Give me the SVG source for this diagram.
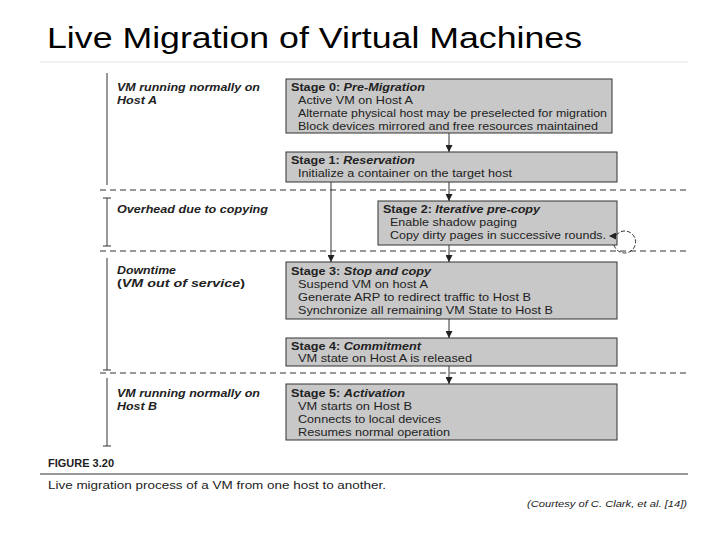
<svg xmlns="http://www.w3.org/2000/svg" width="720" height="540" viewBox="0 0 720 540">
<style>
text{font-family:"Liberation Sans",Arial,sans-serif;fill:#222}
.t{font-size:11.5px}
.b{font-weight:bold}
.i{font-style:italic}
.box{fill:#c8c8c8;stroke:#333;stroke-width:1}
.c{stroke:#333;stroke-width:1;fill:none}
.d{stroke:#333;stroke-width:1;stroke-dasharray:6,4}
</style>
<defs><marker id="a" viewBox="0 0 10 10" refX="10" refY="5" markerWidth="7" markerHeight="7" orient="auto"><path d="M0,0L10,5L0,10z" fill="#222"/></marker></defs>
<rect width="720" height="540" fill="#fff"/>
<text x="47" y="48" font-size="30" textLength="535" lengthAdjust="spacingAndGlyphs" style="fill:#000">Live Migration of Virtual Machines</text>
<line x1="40" y1="62" x2="688" y2="62" stroke="#e6e6e6"/>
<g id="phases">
<line x1="107" y1="73" x2="107" y2="185" class="c"/>
<path d="M103,198h8M107,198v48M103,246h8" class="c"/>
<path d="M107,258v112M103,370h8" class="c"/>
<path d="M107,378v68M103,446h8" class="c"/>
<line x1="100" y1="190" x2="688" y2="190" class="d"/>
<line x1="100" y1="251" x2="688" y2="251" class="d"/>
<line x1="100" y1="373" x2="688" y2="373" class="d"/>
<text class="t b i" x="117" y="91" textLength="143" lengthAdjust="spacingAndGlyphs">VM running normally on</text>
<text class="t b i" x="117" y="104" textLength="40" lengthAdjust="spacingAndGlyphs">Host A</text>
<text class="t b i" x="117" y="213" textLength="151" lengthAdjust="spacingAndGlyphs">Overhead due to copying</text>
<text class="t b i" x="117" y="274" textLength="59" lengthAdjust="spacingAndGlyphs">Downtime</text>
<text class="t b" x="117" y="287" textLength="128" lengthAdjust="spacingAndGlyphs">(<tspan class="i">VM out of service</tspan>)</text>
<text class="t b i" x="117" y="397" textLength="143" lengthAdjust="spacingAndGlyphs">VM running normally on</text>
<text class="t b i" x="117" y="410" textLength="40" lengthAdjust="spacingAndGlyphs">Host B</text>
</g>
<g id="s0"><rect class="box" x="286" y="79" width="326" height="54"/>
<text class="t" x="291" y="91" textLength="134" lengthAdjust="spacingAndGlyphs"><tspan class="b">Stage 0: </tspan><tspan class="b i">Pre-Migration</tspan></text>
<text class="t" x="298" y="104" textLength="115" lengthAdjust="spacingAndGlyphs">Active VM on Host A</text>
<text class="t" x="298" y="117" textLength="309" lengthAdjust="spacingAndGlyphs">Alternate physical host may be preselected for migration</text>
<text class="t" x="298" y="130" textLength="300" lengthAdjust="spacingAndGlyphs">Block devices mirrored and free resources maintained</text></g>
<g id="s1"><rect class="box" x="286" y="152" width="331" height="30"/>
<text class="t" x="291" y="164" textLength="124" lengthAdjust="spacingAndGlyphs"><tspan class="b">Stage 1: </tspan><tspan class="b i">Reservation</tspan></text>
<text class="t" x="298" y="177" textLength="214" lengthAdjust="spacingAndGlyphs">Initialize a container on the target host</text></g>
<g id="s2"><rect class="box" x="378" y="201" width="239" height="44"/>
<text class="t" x="383" y="213" textLength="157" lengthAdjust="spacingAndGlyphs"><tspan class="b">Stage 2: </tspan><tspan class="b i">Iterative pre-copy</tspan></text>
<text class="t" x="390" y="226" textLength="127" lengthAdjust="spacingAndGlyphs">Enable shadow paging</text>
<text class="t" x="390" y="239" textLength="216" lengthAdjust="spacingAndGlyphs">Copy dirty pages in successive rounds.</text></g>
<g id="s3"><rect class="box" x="286" y="262" width="331" height="57"/>
<text class="t" x="291" y="275" textLength="140" lengthAdjust="spacingAndGlyphs"><tspan class="b">Stage 3: </tspan><tspan class="b i">Stop and copy</tspan></text>
<text class="t" x="298" y="288" textLength="130" lengthAdjust="spacingAndGlyphs">Suspend VM on host A</text>
<text class="t" x="298" y="301" textLength="233" lengthAdjust="spacingAndGlyphs">Generate ARP to redirect traffic to Host B</text>
<text class="t" x="298" y="314" textLength="255" lengthAdjust="spacingAndGlyphs">Synchronize all remaining VM State to Host B</text></g>
<g id="s4"><rect class="box" x="286" y="338" width="331" height="28"/>
<text class="t" x="291" y="350" textLength="130" lengthAdjust="spacingAndGlyphs"><tspan class="b">Stage 4: </tspan><tspan class="b i">Commitment</tspan></text>
<text class="t" x="298" y="362" textLength="174" lengthAdjust="spacingAndGlyphs">VM state on Host A is released</text></g>
<g id="s5"><rect class="box" x="286" y="384" width="331" height="56"/>
<text class="t" x="291" y="397" textLength="114" lengthAdjust="spacingAndGlyphs"><tspan class="b">Stage 5: </tspan><tspan class="b i">Activation</tspan></text>
<text class="t" x="298" y="410" textLength="114" lengthAdjust="spacingAndGlyphs">VM starts on Host B</text>
<text class="t" x="298" y="423" textLength="143" lengthAdjust="spacingAndGlyphs">Connects to local devices</text>
<text class="t" x="298" y="436" textLength="152" lengthAdjust="spacingAndGlyphs">Resumes normal operation</text></g>
<g id="connectors">
<line class="c" x1="449" y1="133" x2="449" y2="152" marker-end="url(#a)"/>
<line class="c" x1="449" y1="182" x2="449" y2="201" marker-end="url(#a)"/>
<line class="c" x1="331" y1="182" x2="331" y2="262" marker-end="url(#a)"/>
<line class="c" x1="449" y1="245" x2="449" y2="262" marker-end="url(#a)"/>
<line class="c" x1="449" y1="319" x2="449" y2="338" marker-end="url(#a)"/>
<line class="c" x1="449" y1="366" x2="449" y2="384" marker-end="url(#a)"/>
<path class="c" d="M614,245 A11,11 0 1 0 620,232 Q616,236 609,236" marker-end="url(#a)" stroke-dasharray="4,2"/>
</g>
<text x="48" y="467" font-size="11" font-weight="bold" textLength="66" lengthAdjust="spacingAndGlyphs">FIGURE 3.20</text>
<line x1="40" y1="474" x2="688" y2="474" stroke="#333"/>
<text x="48" y="489" font-size="11.5" textLength="338" lengthAdjust="spacingAndGlyphs">Live migration process of a VM from one host to another.</text>
<text x="527" y="507" font-size="9.5" font-style="italic" textLength="160" lengthAdjust="spacingAndGlyphs">(Courtesy of C. Clark, et al. [14])</text>
</svg>
